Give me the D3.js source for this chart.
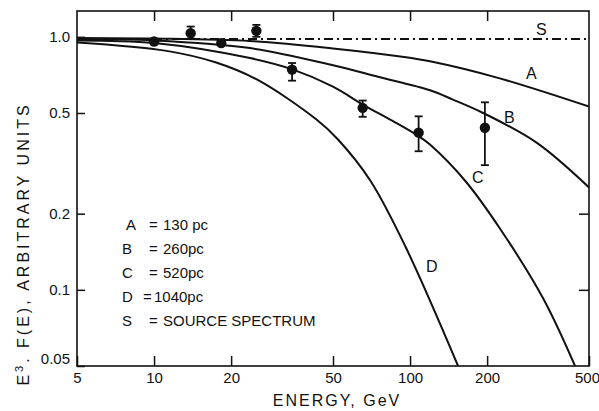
<!DOCTYPE html>
<html>
<head>
<meta charset="utf-8">
<script src="https://cdn.jsdelivr.net/npm/d3@7"></script>
<style>
  body { margin: 0; background: #fff; }
  text { font-family: "Liberation Sans", Arial, sans-serif; fill: #111; }
</style>
</head>
<body>
<div id="chart"></div>
<script>
// 曲线数据 (能量 GeV, E^3 F(E))
var curveA = [[5,0.99],[10,0.985],[23.7,0.963],[50,0.90],[91.6,0.836],[119.6,0.80],[224,0.685],[500,0.53]];
var curveB = [[5,0.98],[10,0.968],[23.7,0.903],[50,0.772],[75,0.695],[119.6,0.615],[147,0.565],[193,0.50],[313,0.381],[500,0.254]];
var curveC = [[5,0.968],[10,0.945],[23.7,0.824],[34.5,0.745],[50,0.635],[65.3,0.54],[85.5,0.465],[108,0.405],[119.6,0.375],[165,0.268],[225,0.174],[332,0.092],[441,0.05]];
var curveD = [[5,0.95],[11.2,0.88],[17.6,0.79],[25.3,0.677],[43.1,0.471],[52.3,0.393],[70,0.27],[96,0.148],[154,0.05]];
var sourceLevel = 0.98;

// 测量点：能量、值、误差下限、误差上限
var pointE  = [10, 13.9, 18.3, 25.1, 34.6, 65.3, 108, 196];
var pointV  = [0.958, 1.034, 0.944, 1.056, 0.742, 0.524, 0.418, 0.437];
var pointLo = [0.958, 0.985, 0.944, 1.0, 0.671, 0.483, 0.353, 0.311];
var pointHi = [0.958, 1.098, 0.944, 1.115, 0.788, 0.56, 0.485, 0.551];

var xTicks = [5, 10, 20, 50, 100, 200, 500];
var yTicks = [0.05, 0.1, 0.2, 0.5, 1];
var yTickLabels = ["0.05", "0.1", "0.2", "0.5", "1.0"];

var legendKeys = ["A", "B", "C", "D", "S"];
var legendVals = ["130 pc", "260pc", "520pc", "1040pc", "SOURCE SPECTRUM"];

var W = 599, H = 411;
var m = { left: 77, right: 589, top: 11, bottom: 366 };

var svg = d3.select("#chart").append("svg")
  .attr("width", W).attr("height", H);

var x = d3.scaleLog().domain([5, 500]).range([m.left, m.right]);
var y = d3.scaleLog().domain([0.05, 1.265]).range([m.bottom, m.top]);

svg.append("defs").append("clipPath").attr("id", "clip")
  .append("rect").attr("x", m.left).attr("y", m.top)
  .attr("width", m.right - m.left).attr("height", m.bottom - m.top);

// axes, ticks pointing inward
var fmtY = function(d) { return yTickLabels[yTicks.indexOf(d)]; };

var gx = svg.append("g").attr("transform", "translate(0," + m.bottom + ")")
  .call(d3.axisBottom(x).tickValues(xTicks).tickFormat(d3.format("d")).tickSize(-10).tickPadding(6));
var gt = svg.append("g").attr("transform", "translate(0," + m.top + ")")
  .call(d3.axisTop(x).tickValues(xTicks.slice(1, -1)).tickFormat("").tickSize(-10));
var gy = svg.append("g").attr("transform", "translate(" + m.left + ",0)")
  .call(d3.axisLeft(y).tickValues(yTicks).tickFormat(fmtY).tickSize(-8).tickPadding(7));
var gr = svg.append("g").attr("transform", "translate(" + m.right + ",0)")
  .call(d3.axisRight(y).tickValues([0.1, 0.2]).tickFormat("").tickSize(-10));

[gx, gt, gy, gr].forEach(function(g) {
  g.select(".domain").remove();
  g.selectAll("line").attr("stroke", "#111").attr("stroke-width", 1.5);
  g.selectAll("text").style("font-size", "15px").attr("fill", "#111")
    .style("font-family", "'Liberation Sans', Arial, sans-serif");
});
gy.selectAll(".tick").filter(function(d) { return d === 0.05; }).select("text").attr("dy", "-0.2em");
gx.selectAll(".tick").filter(function(d) { return d === 500; }).select("text").attr("dx", "-2");

svg.append("rect")
  .attr("x", m.left).attr("y", m.top)
  .attr("width", m.right - m.left).attr("height", m.bottom - m.top)
  .attr("fill", "none").attr("stroke", "#111").attr("stroke-width", 1.6);

var plot = svg.append("g").attr("clip-path", "url(#clip)");

var line = d3.line()
  .x(function(d) { return x(d[0]); })
  .y(function(d) { return y(d[1]); })
  .curve(d3.curveCatmullRom.alpha(0.5));

[curveA, curveB, curveC, curveD].forEach(function(c) {
  plot.append("path").datum(c)
    .attr("d", line)
    .attr("fill", "none").attr("stroke", "#111").attr("stroke-width", 2);
});

// source spectrum
plot.append("line")
  .attr("x1", x(5)).attr("x2", x(500))
  .attr("y1", y(sourceLevel)).attr("y2", y(sourceLevel))
  .attr("stroke", "#111").attr("stroke-width", 2)
  .attr("stroke-dasharray", "9,4,2,4");

// data points with error bars
var pts = pointE.map(function(e, i) {
  return { e: e, v: pointV[i], lo: pointLo[i], hi: pointHi[i] };
});

var pg = svg.append("g");
pts.forEach(function(p) {
  var cx = x(p.e);
  if (p.hi > p.lo) {
    pg.append("line").attr("x1", cx).attr("x2", cx)
      .attr("y1", y(p.lo)).attr("y2", y(p.hi))
      .attr("stroke", "#111").attr("stroke-width", 1.8);
    [p.lo, p.hi].forEach(function(v) {
      pg.append("line").attr("x1", cx - 4).attr("x2", cx + 4)
        .attr("y1", y(v)).attr("y2", y(v))
        .attr("stroke", "#111").attr("stroke-width", 1.8);
    });
  }
  pg.append("circle").attr("cx", cx).attr("cy", y(p.v)).attr("r", 5.2).attr("fill", "#111");
});

// curve labels
var curveLabels = [["S", 536, 35], ["A", 526, 79], ["B", 504, 123], ["C", 472, 183], ["D", 426, 272]];
svg.append("g").selectAll("text").data(curveLabels).join("text")
  .attr("x", function(d) { return d[1]; })
  .attr("y", function(d) { return d[2]; })
  .style("font-size", "16px")
  .text(function(d) { return d[0]; });

// legend
var lg = svg.append("g").style("font-size", "15px");
legendKeys.forEach(function(k, i) {
  var yy = 230 + i * 24;
  lg.append("text").attr("x", i === 0 ? 126 : 122).attr("y", yy).text(k);
  lg.append("text").attr("x", i === 3 ? 143 : 149).attr("y", yy).text("=");
  lg.append("text").attr("x", i === 3 ? 154 : 163).attr("y", yy).text(legendVals[i]);
});

// axis titles
svg.append("text")
  .attr("x", 337).attr("y", 406)
  .attr("text-anchor", "middle")
  .style("font-size", "16px").style("letter-spacing", "2px")
  .text("ENERGY,  GeV");

var yl = svg.append("text")
  .attr("transform", "translate(29,244) rotate(-90)")
  .attr("text-anchor", "middle")
  .style("font-size", "16px").style("letter-spacing", "3px");
yl.append("tspan").text("E");
yl.append("tspan").attr("dy", "-6").style("font-size", "11px").text("3");
yl.append("tspan").attr("dy", "6").text(". F(E), ARBITRARY UNITS");
</script>
</body>
</html>
